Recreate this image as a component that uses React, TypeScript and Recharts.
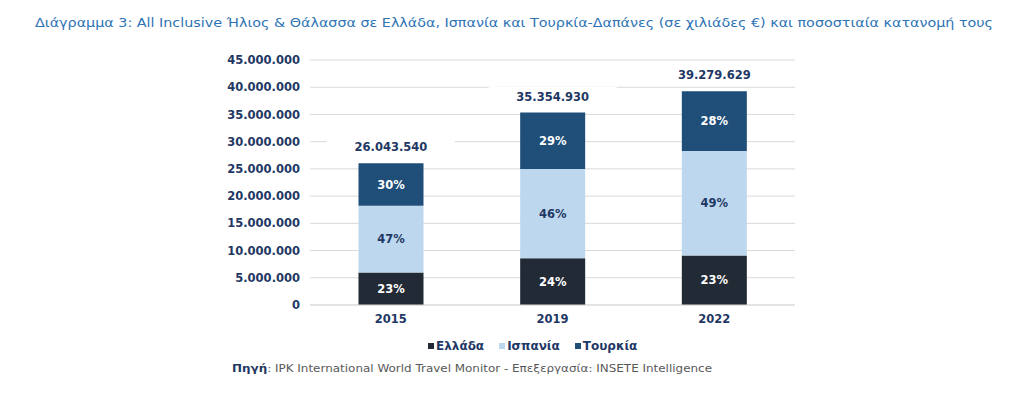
import React from 'react';
import { BarChart, Bar, XAxis, YAxis, CartesianGrid, LabelList } from 'recharts';

const years = ['2015', '2019', '2022'];
const greece = [5990000, 8600000, 9100000];
const spain = [12240000, 16400000, 19200000];
const turkey = [7813540, 10354930, 10979629];
const yTicks = [0, 5000000, 10000000, 15000000, 20000000, 25000000, 30000000, 35000000, 40000000, 45000000];

const seriesNames = ['Ελλάδα', 'Ισπανία', 'Τουρκία'];
const seriesColors = ['#222a35', '#bdd7ee', '#1f4e79'];
const labelColors = ['#ffffff', '#1f3864', '#ffffff'];
const seriesKeys = ['greece', 'spain', 'turkey'];

const title = 'Διάγραμμα 3: All Inclusive Ήλιος & Θάλασσα σε Ελλάδα, Ισπανία και Τουρκία-Δαπάνες (σε χιλιάδες €) και ποσοστιαία κατανομή τους';
const sourceBold = 'Πηγή';
const sourceRest = ': IPK International World Travel Monitor - Επεξεργασία: INSETE Intelligence';

const data = years.map((y, i) => {
  const total = greece[i] + spain[i] + turkey[i];
  return {
    year: y,
    greece: greece[i],
    spain: spain[i],
    turkey: turkey[i],
    total,
    greecePct: Math.round((greece[i] / total) * 100) + '%',
    spainPct: Math.round((spain[i] / total) * 100) + '%',
    turkeyPct: Math.round((turkey[i] / total) * 100) + '%',
  };
});

const fmt = (v: number) => String(Math.round(v)).replace(/\B(?=(\d{3})+(?!\d))/g, '.');

const FONT = '"DejaVu Sans", Verdana, sans-serif';
const NAVY = '#1f3864';

const TotalLabel = (props: any) => {
  const { x, y, width, value } = props;
  const cx = Number(x) + Number(width) / 2;
  const cy = Number(y) - 16;
  return (
    <g>
      <rect x={cx - 64} y={cy - 10} width={128} height={20} fill="#ffffff" />
      <text x={cx} y={cy} textAnchor="middle" dominantBaseline="central" fill={NAVY}
        fontFamily={FONT} fontWeight="bold" fontSize={11.5}>
        {fmt(Number(value))}
      </text>
    </g>
  );
};

export default function App() {
  return (
    <div style={{ position: 'absolute', left: 0, top: 0, width: 1024, height: 399, background: '#fff' }}>
      <svg width={1024} height={40} style={{ position: 'absolute', left: 0, top: 0 }}>
        <text x={35} y={27} fill="#2e74b5" fontFamily={FONT} fontSize={13}
          textLength={958} lengthAdjust="spacingAndGlyphs">{title}</text>
      </svg>
      <div style={{ position: 'absolute', left: 0, top: 0 }}>
        <BarChart width={1024} height={399} data={data}
          margin={{ top: 60, right: 229, left: 0, bottom: 64 }}
          barCategoryGap="30%">
          <CartesianGrid vertical={false} stroke="#d9d9d9" strokeWidth={1} />
          <XAxis dataKey="year" height={30} axisLine={{ stroke: '#d9d9d9' }} tickLine={false}
            tickSize={0} tickMargin={10}
            tick={{ fill: NAVY, fontFamily: FONT, fontWeight: 'bold', fontSize: 11.5 }} />
          <YAxis width={310} domain={[0, 45000000]} ticks={yTicks} axisLine={false} tickLine={false}
            tickSize={0} tickMargin={10} interval={0} tickFormatter={fmt}
            tick={{ fill: NAVY, fontFamily: FONT, fontWeight: 'bold', fontSize: 11.5 }} />
          {seriesKeys.map((k, si) => (
            <Bar key={k} dataKey={k} stackId="a" fill={seriesColors[si]} isAnimationActive={false}>
              <LabelList dataKey={k + 'Pct'} position="center" fill={labelColors[si]}
                style={{ fontFamily: FONT, fontWeight: 'bold', fontSize: 11.5 }} />
              {si === 2 ? <LabelList dataKey="total" content={TotalLabel} /> : null}
            </Bar>
          ))}
        </BarChart>
      </div>
      <div style={{ position: 'absolute', left: 428, top: 338, height: 16, display: 'flex', alignItems: 'center', fontFamily: FONT, fontWeight: 'bold', fontSize: 12, color: NAVY, whiteSpace: 'nowrap' }}>
        {seriesNames.map((n, i) => (
          <span key={n} style={{ display: 'inline-flex', alignItems: 'center', marginRight: 15 }}>
            <span style={{ display: 'inline-block', width: 6, height: 6, background: seriesColors[i], marginRight: 2 }} />
            {n}
          </span>
        ))}
      </div>
      <svg width={1024} height={30} style={{ position: 'absolute', left: 0, top: 355 }}>
        <text x={232} y={17} fontFamily={FONT} fontSize={11} textLength={480} lengthAdjust="spacingAndGlyphs">
          <tspan fill={NAVY} fontWeight="bold">{sourceBold}</tspan>
          <tspan fill="#595959">{sourceRest}</tspan>
        </text>
      </svg>
    </div>
  );
}
